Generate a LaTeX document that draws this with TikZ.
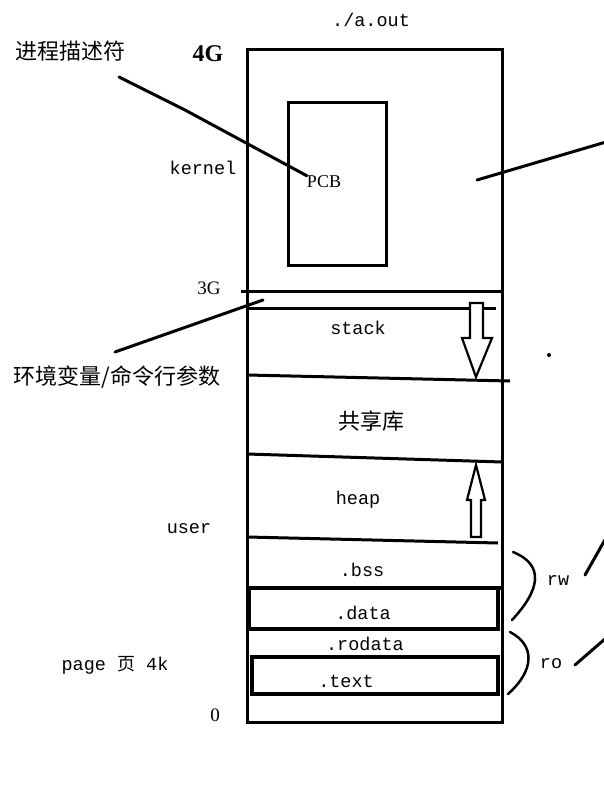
\documentclass[tikz,border=0pt]{standalone}
\usepackage{fontspec}
\setmainfont{Liberation Serif}
\newfontfamily\monof{Liberation Mono}
\newfontfamily\cjk{Noto Sans CJK SC}
\begin{document}
\begin{tikzpicture}[x=1pt,y=-1pt,
  mono/.style={font=\monof\fontsize{18.5}{20}\selectfont, inner sep=0pt},
  cjklab/.style={font=\cjk\fontsize{22}{24}\selectfont, inner sep=0pt},
  edge/.style={line width=3pt},
  thickedge/.style={line width=4pt},
  pointer/.style={line width=3pt, line cap=round},
  hollow/.style={line width=2.2pt, fill=white, line join=miter}]
\useasboundingbox (0,0) rectangle (603,799);
\fill[white] (0,0) rectangle (603,799);

% outer box
\draw[edge] (247,50) rectangle (502,722);
% PCB box
\draw[edge] (288,103) rectangle (386,265);
% separators
\draw[edge] (241,291) -- (502,291);
\draw[edge] (247,308) -- (496,308);
\draw[edge] (247,375) -- (510,381);
\draw[edge] (247,454) -- (502,462);
\draw[edge] (247,537) -- (498,543);
\draw[thickedge] (247,588) -- (502,588);
\draw[thickedge] (249,588) rectangle (498,629);
\draw[thickedge] (252,657) rectangle (498,694);

% arrows
\draw[hollow] (470,303) -- (483,303) -- (483,338) -- (492,338) -- (476,377) -- (462,338) -- (470,338) -- cycle;
\draw[hollow] (476,465) -- (485,500) -- (481,500) -- (481,537) -- (471,537) -- (471,500) -- (467,500) -- cycle;

% labels
\node[mono] (aout) at (371,20) {./a.out};
\node[font=\bfseries\fontsize{24}{26}\selectfont, inner sep=0pt] (g4) at (208,54) {4G};
\node[cjklab] (pdesc) at (70,51) {进程描述符};
\node[mono] (kernel) at (203,168) {kernel};
\node[font=\fontsize{18}{20}\selectfont, inner sep=0pt] (pcb) at (324,182) {PCB};
\node[font=\fontsize{19}{20}\selectfont, inner sep=0pt] (g3) at (209,288) {3G};
\node[cjklab] (env) at (117,377) {环境变量/命令行参数};
\node[mono] (stack) at (358,328) {stack};
\node[cjklab] (shlib) at (371,421) {共享库};
\node[mono] (heap) at (358,500) {heap};
\node[mono] (user) at (189,529) {user};
\node[mono] (bss) at (362,570) {.bss};
\node[mono] (data) at (363,613) {.data};
\node[mono] (rodata) at (365,644) {.rodata};
\node[mono] (text) at (346,681) {.text};
\node[font=\fontsize{19}{20}\selectfont, inner sep=0pt] (zero) at (215,715) {0};
\node[mono] (page) at (115,665) {page {\cjk\fontsize{18}{20}\selectfont 页} 4k};
\node[mono] (rw) at (558,581) {rw};
\node[mono] (ro) at (551,664) {ro};
\fill (549,355) circle (2pt);

% pointer lines
\coordinate (pd0) at (119,77);
\coordinate (pd1) at (185,110);
\draw[pointer] (pd0) -- (pd1) -- (pcb.north west);
\coordinate (kr0) at (477,180);
\coordinate (kr1) at (606,142);
\draw[pointer] (kr0) -- (kr1);
\coordinate (en0) at (263,300);
\draw[pointer] (en0) -- (115,352);
\coordinate (rw0) at (585,575);
\draw[pointer] (rw0) -- (606,538);
\coordinate (ro0) at (575,665);
\draw[pointer] (ro0) -- (606,638);

% braces
\draw[line width=2.5pt, line cap=round] (513,552) .. controls (545,565) and (540,590) .. (512,620);
\draw[line width=2.5pt, line cap=round] (510,632) .. controls (535,645) and (535,670) .. (508,694);
\end{tikzpicture}
\end{document}
